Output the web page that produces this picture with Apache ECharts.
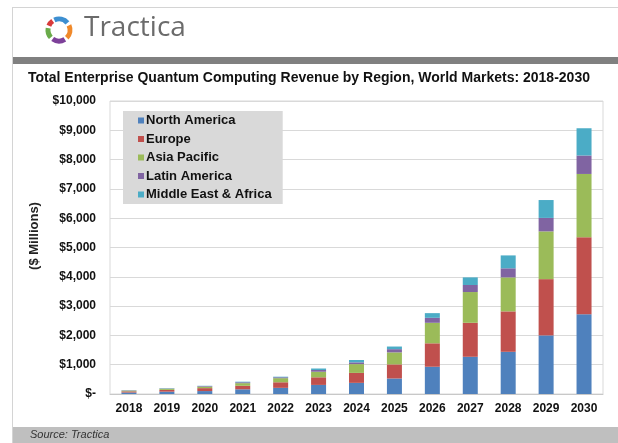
<!DOCTYPE html>
<html>
<head>
<meta charset="utf-8">
<script src="https://cdn.jsdelivr.net/npm/echarts@6/dist/echarts.min.js"></script>
<style>
html,body{margin:0;padding:0;background:#fff;}
#c{width:618px;height:443px;}
</style>
</head>
<body>
<div id="c"></div>
<script>
var categories = ['2018','2019','2020','2021','2022','2023','2024','2025','2026','2027','2028','2029','2030'];
var northAmerica = [50, 80, 100, 160, 210, 310, 380, 530, 930, 1270, 1440, 2000, 2720];
var europe       = [40, 60, 100, 120, 190, 260, 340, 480, 800, 1160, 1380, 1920, 2630];
var asiaPacific  = [25, 40, 50, 90, 140, 190, 300, 410, 700, 1050, 1160, 1630, 2160];
var latinAmerica = [10, 10, 20, 30, 30, 60, 60, 110, 170, 240, 310, 460, 630];
var middleEastAfrica = [5, 10, 10, 20, 20, 50, 80, 90, 160, 260, 440, 610, 930];
var seriesNames = ['North America','Europe','Asia Pacific','Latin America','Middle East & Africa'];
var seriesData = [northAmerica, europe, asiaPacific, latinAmerica, middleEastAfrica];
var colors = ['#4f81bd','#c0504d','#9bbb59','#8064a2','#4bacc6'];

var chart = echarts.init(document.getElementById('c'), null, {renderer:'canvas'});
var font = 'Arial, "Liberation Sans", sans-serif';

function fmt(v){
  if (v === 0) return '$-';
  return '$' + v.toString().replace(/\B(?=(\d{3})+(?!\d))/g, ',');
}

var series = seriesNames.map(function(n,i){
  return {
    name: n, type: 'bar', stack: 'total', data: seriesData[i],
    barWidth: 15, itemStyle: {color: colors[i]},
    emphasis: {disabled: true}
  };
});

var logoSegs = [
  {s:-115, e:-40, c:'#3d8fd1'},
  {s:-25, e:45, c:'#f0892a'},
  {s:58, e:125, c:'#7d4099'},
  {s:138, e:190, c:'#6aab4a'},
  {s:203, e:235, c:'#d83b3b'}
];
var graphics = [
  {type:'rect', shape:{x:12,y:7,width:606,height:1}, style:{fill:'#d4d4d4'}, silent:true},
  {type:'rect', shape:{x:12,y:7,width:1,height:436}, style:{fill:'#d4d4d4'}, silent:true},
  {type:'rect', shape:{x:13,y:57,width:605,height:7}, style:{fill:'#808080'}, silent:true},
  {type:'rect', shape:{x:13,y:427,width:605,height:16}, style:{fill:'#bfbfbf'}, silent:true},
  {type:'text', left:30, top:429, style:{text:'Source: Tractica', font:'italic 11px ' + font, fill:'#333'}},
  {type:'text', left:84, top:14, style:{text:'Tractica', font:'400 28px "Open Sans", sans-serif', fill:'#6b6b6b'}},
  {type:'text', x:34, y:236, rotation:Math.PI/2,
   style:{text:'($ Millions)', font:'bold 13px ' + font, fill:'#222', align:'center', verticalAlign:'middle'}}
];
logoSegs.forEach(function(g){
  graphics.push({type:'arc', shape:{cx:59, cy:30, r:11, startAngle:g.s*Math.PI/180, endAngle:g.e*Math.PI/180},
    style:{stroke:g.c, lineWidth:5, fill:null}, silent:true});
});

chart.setOption({
  animation: false,
  backgroundColor: '#ffffff',
  title: {
    text: 'Total Enterprise Quantum Computing Revenue by Region, World Markets: 2018-2030',
    left: 'center', top: 66,
    textStyle: {fontFamily: font, fontWeight: 'bold', fontSize: 14, color: '#111'}
  },
  legend: {
    orient: 'vertical', left: 123, top: 111,
    data: seriesNames,
    backgroundColor: '#d9d9d9',
    padding: [3, 11, 3, 15],
    itemWidth: 6, itemHeight: 6, itemGap: 5.5,
    icon: 'rect',
    textStyle: {fontFamily: font, fontWeight: 'bold', fontSize: 13, color: '#111', padding:[0,0,0,-3]},
    selectedMode: false
  },
  grid: {left: 110, right: 15, top: 101, bottom: 49, show: true, borderColor: '#d9d9d9', borderWidth: 1, backgroundColor: 'transparent'},
  xAxis: {
    type: 'category', data: categories,
    axisLine: {lineStyle: {color: '#c8c8c8'}},
    axisTick: {show: false},
    axisLabel: {fontFamily: font, fontWeight: 'bold', fontSize: 12, color: '#111', margin: 9, interval: 0}
  },
  yAxis: {
    type: 'value', min: 0, max: 10000, interval: 1000,
    axisLine: {show: false}, axisTick: {show: false},
    splitLine: {lineStyle: {color: '#d9d9d9'}},
    axisLabel: {fontFamily: font, fontWeight: 'bold', fontSize: 12, color: '#111', margin: 14, formatter: fmt}
  },
  graphic: graphics,
  series: series
});
</script>
</body>
</html>
